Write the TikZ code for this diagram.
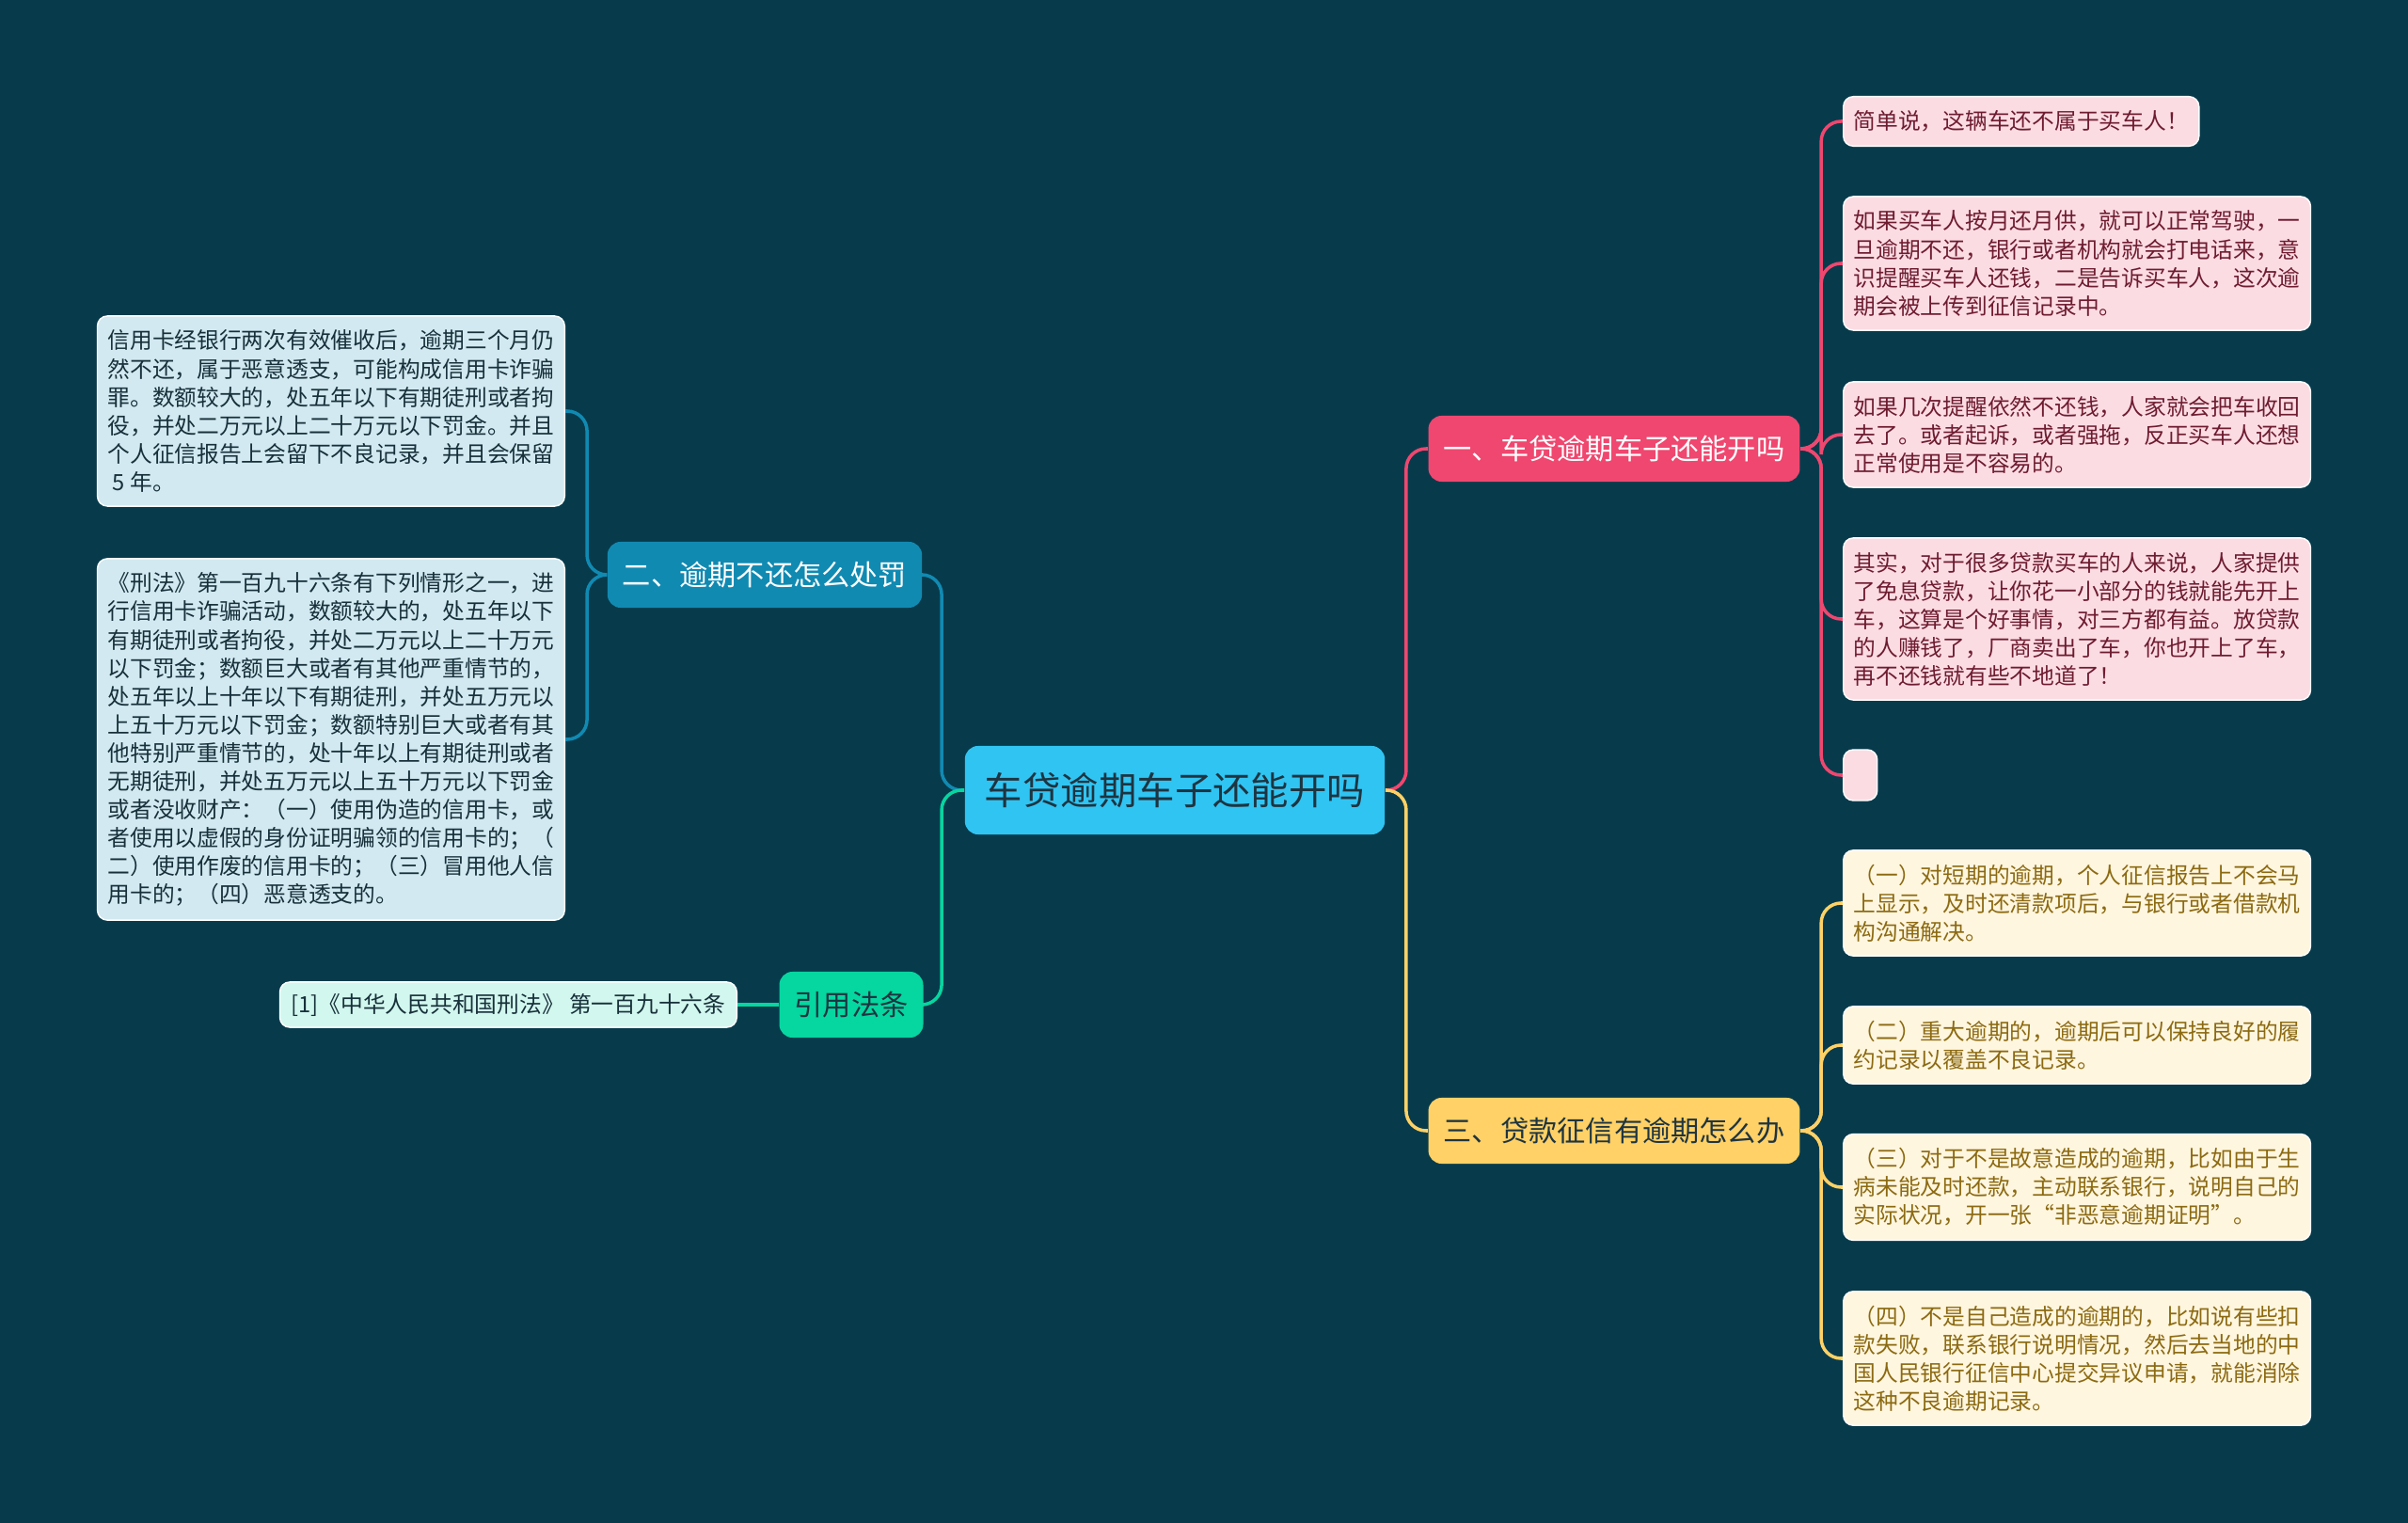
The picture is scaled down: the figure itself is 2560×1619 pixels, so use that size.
\documentclass[tikz,border=0pt]{standalone}
\usepackage{fontspec}
\setmainfont{Noto Sans CJK SC}
\definecolor{bg}{HTML}{073B4C}
\definecolor{rose}{HTML}{EF476F}
\definecolor{sun}{HTML}{FFD166}
\definecolor{mint}{HTML}{06D6A0}
\definecolor{sea}{HTML}{118AB2}
\definecolor{sky}{HTML}{30C4F2}
\definecolor{roselt}{HTML}{FCDCE3}
\definecolor{sunlt}{HTML}{FFF6DF}
\definecolor{mintlt}{HTML}{D2F7EE}
\definecolor{sealt}{HTML}{D2E9F1}
\definecolor{rosedk}{HTML}{6E1C30}
\definecolor{sundk}{HTML}{8C6A12}
\definecolor{seadk}{HTML}{17303A}
\definecolor{ink}{HTML}{1E3440}
\tikzset{
  root/.style={fill=sky,text=ink,rounded corners=4pt,inner xsep=0.21cm,minimum height=0.94cm,font=\fontsize{11.5pt}{13pt}\selectfont},
  topic/.style={rounded corners=4pt,inner xsep=0.16cm,minimum height=0.7cm,font=\fontsize{8.6pt}{10pt}\selectfont},
  leaf/.style={draw=white,line width=0.4pt,rounded corners=3pt,inner xsep=0.11cm,inner ysep=0.15cm,align=left,font=\fontsize{6.75pt}{8.54pt}\selectfont},
  rleaf/.style={leaf,fill=roselt,text=rosedk,anchor=west},
  yleaf/.style={leaf,fill=sunlt,text=sundk,anchor=west},
  bleaf/.style={leaf,fill=sealt,text=seadk,anchor=east},
  link/.style={line width=1pt,rounded corners=6pt},
}
\begin{document}
\begin{tikzpicture}[x=0.01cm,y=-0.01cm]
  \fill[bg] (0,0) rectangle (2560,1619);
  \useasboundingbox (0,0) rectangle (2560,1619);

  \node[root] (root) at (1249,840) {车贷逾期车子还能开吗};
  \node[topic,fill=rose,text=white] (t1) at (1716,477) {一、车贷逾期车子还能开吗};
  \node[topic,fill=sea,text=white] (t2) at (813,611) {二、逾期不还怎么处罚};
  \node[topic,fill=sun,text=ink] (t3) at (1716,1202) {三、贷款征信有逾期怎么办};
  \node[topic,fill=mint,text=ink] (cite) at (905,1068) {引用法条};

  \node[leaf,fill=mintlt,text=seadk,anchor=east,inner ysep=0.12cm,inner xsep=0.12cm] (ref) at (784,1068) {[1]《中华人民共和国刑法》 第一百九十六条};

  \node[bleaf] (l1) at (601,437) {信用卡经银行两次有效催收后，逾期三个月仍\\然不还，属于恶意透支，可能构成信用卡诈骗\\罪。数额较大的，处五年以下有期徒刑或者拘\\役，并处二万元以上二十万元以下罚金。并且\\个人征信报告上会留下不良记录，并且会保留\\~5 年。};
  \node[bleaf] (l2) at (601,786) {《刑法》第一百九十六条有下列情形之一，进\\行信用卡诈骗活动，数额较大的，处五年以下\\有期徒刑或者拘役，并处二万元以上二十万元\\以下罚金；数额巨大或者有其他严重情节的，\\处五年以上十年以下有期徒刑，并处五万元以\\上五十万元以下罚金；数额特别巨大或者有其\\他特别严重情节的，处十年以上有期徒刑或者\\无期徒刑，并处五万元以上五十万元以下罚金\\或者没收财产：（一）使用伪造的信用卡，或\\者使用以虚假的身份证明骗领的信用卡的；（\\二）使用作废的信用卡的；（三）冒用他人信\\用卡的；（四）恶意透支的。};

  \node[rleaf] (p1) at (1959,129) {简单说，这辆车还不属于买车人！};
  \node[rleaf] (p2) at (1959,280) {如果买车人按月还月供，就可以正常驾驶，一\\旦逾期不还，银行或者机构就会打电话来，意\\识提醒买车人还钱，二是告诉买车人，这次逾\\期会被上传到征信记录中。};
  \node[rleaf] (p3) at (1959,462) {如果几次提醒依然不还钱，人家就会把车收回\\去了。或者起诉，或者强拖，反正买车人还想\\正常使用是不容易的。};
  \node[rleaf] (p4) at (1959,658) {其实，对于很多贷款买车的人来说，人家提供\\了免息贷款，让你花一小部分的钱就能先开上\\车，这算是个好事情，对三方都有益。放贷款\\的人赚钱了，厂商卖出了车，你也开上了车，\\再不还钱就有些不地道了！};
  \node[rleaf,minimum width=0.36cm,minimum height=0.54cm,inner sep=0pt] (p5) at (1959,824) {};

  \node[yleaf] (y1) at (1959,960) {（一）对短期的逾期，个人征信报告上不会马\\上显示，及时还清款项后，与银行或者借款机\\构沟通解决。};
  \node[yleaf] (y2) at (1959,1111) {（二）重大逾期的，逾期后可以保持良好的履\\约记录以覆盖不良记录。};
  \node[yleaf] (y3) at (1959,1262) {（三）对于不是故意造成的逾期，比如由于生\\病未能及时还款，主动联系银行，说明自己的\\实际状况，开一张“非恶意逾期证明”。};
  \node[yleaf] (y4) at (1959,1444) {（四）不是自己造成的逾期的，比如说有些扣\\款失败，联系银行说明情况，然后去当地的中\\国人民银行征信中心提交异议申请，就能消除\\这种不良逾期记录。};

  \draw[link,rose] (root.east) -- ++(22,0) |- (t1.west);
  \draw[link,sun] (root.east) -- ++(22,0) |- (t3.west);
  \draw[link,sea] (root.west) -- ++(-24,0) |- (t2.east);
  \draw[link,mint] (root.west) -- ++(-24,0) |- (cite.east);
  \draw[link,mint] (cite.west) -- (ref.east);
  \foreach \n in {l1,l2}
    \draw[link,sea] (t2.west) -- ++(-21,0) |- (\n.east);
  \foreach \n in {p1,p2,p3,p4,p5}
    \draw[link,rose] (t1.east) -- ++(22,0) |- (\n.west);
  \foreach \n in {y1,y2,y3,y4}
    \draw[link,sun] (t3.east) -- ++(22,0) |- (\n.west);
\end{tikzpicture}
\end{document}
